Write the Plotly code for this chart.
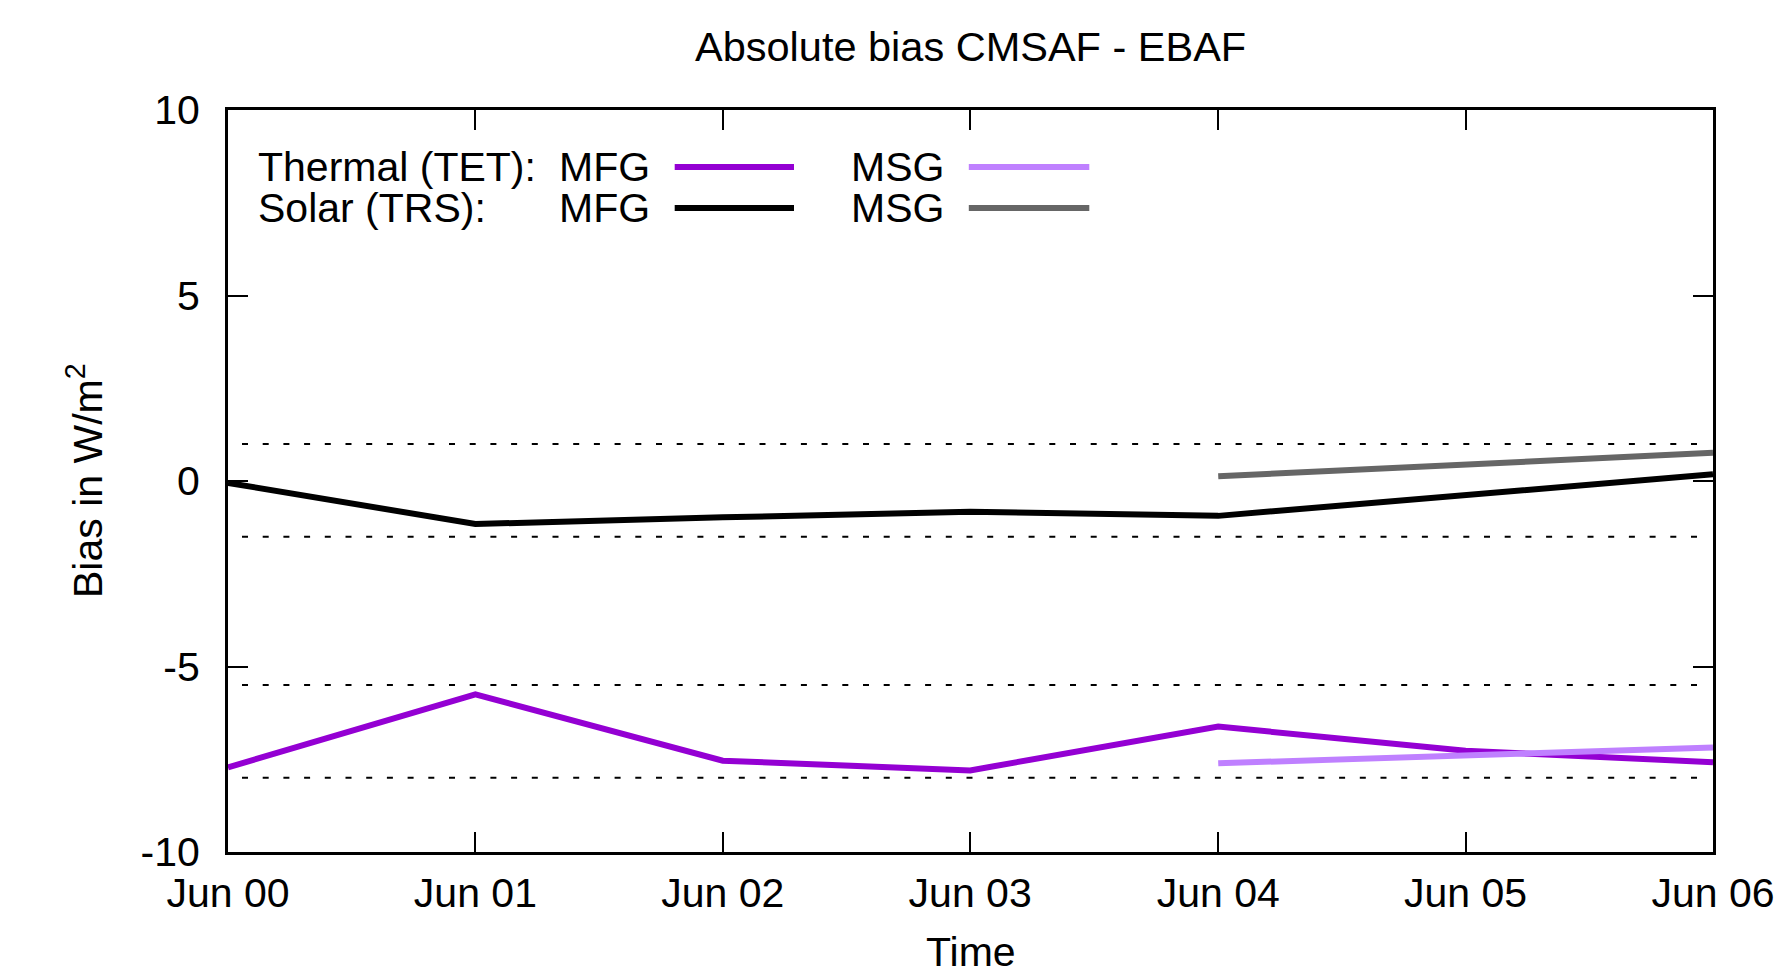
import plotly.graph_objects as go

# ---- data ----
dates_mfg = ["2000-06-01", "2001-06-01", "2002-06-01", "2003-06-01",
             "2004-06-01", "2005-06-01", "2006-06-01"]
dates_msg = ["2004-06-01", "2005-06-01", "2006-06-01"]
tet_mfg = [-7.72, -5.75, -7.54, -7.80, -6.62, -7.27, -7.58]
tet_msg = [-7.61, -7.40, -7.18]
trs_mfg = [-0.05, -1.16, -0.98, -0.83, -0.94, -0.39, 0.18]
trs_msg = [0.13, 0.45, 0.76]
ref_levels = [1.0, -1.5, -5.5, -8.0]
y_ticks = [-10, -5, 0, 5, 10]
y_ticktext = ["-10", "-5", "0", "5", "10"]
x_ticks = dates_mfg

FONT = "Liberation Sans, Arial, sans-serif"
FS = 41
C_TET_MFG = "#9400D3"
C_TET_MSG = "#BF80FF"
C_TRS_MFG = "#000000"
C_TRS_MSG = "#666666"
LW = 6

W, H = 1781, 970
L, R, T, B = 228, 1713, 110, 852


def px(x):
    return (x - L) / (R - L)


def py(y):
    return (B - y) / (B - T)


fig = go.Figure()
for xs, ys, c in [(dates_mfg, tet_mfg, C_TET_MFG), (dates_msg, tet_msg, C_TET_MSG),
                  (dates_mfg, trs_mfg, C_TRS_MFG), (dates_msg, trs_msg, C_TRS_MSG)]:
    fig.add_trace(go.Scatter(x=xs, y=ys, mode="lines",
                             line=dict(color=c, width=LW), showlegend=False))

shapes = []
for lv in ref_levels:
    shapes.append(dict(type="line", xref="paper", yref="y", x0=px(L + 14), x1=px(R - 10),
                       y0=lv, y1=lv,
                       line=dict(color="black", width=2, dash="6px,14.7px"), layer="below"))

# legend sample lines
for (x0, x1, y, c) in [(674.7, 794, 167, C_TET_MFG), (968.8, 1089.3, 167, C_TET_MSG),
                       (674.7, 794, 208, C_TRS_MFG), (968.8, 1089.3, 208, C_TRS_MSG)]:
    shapes.append(dict(type="line", xref="paper", yref="paper", x0=px(x0), x1=px(x1),
                       y0=py(y), y1=py(y), line=dict(color=c, width=LW)))

annotations = []
for (x, y, t) in [(256, 167, "Thermal (TET):"), (557, 167, "MFG"), (849, 167, "MSG"),
                  (256, 208, "Solar (TRS):"), (557, 208, "MFG"), (849, 208, "MSG")]:
    annotations.append(dict(xref="paper", yref="paper", x=px(x), y=py(y), text=t,
                            showarrow=False, xanchor="left", yanchor="middle",
                            font=dict(family=FONT, size=FS, color="black")))

annotations.append(dict(xref="paper", yref="paper", x=0.5, y=py(46),
                        text="Absolute bias CMSAF - EBAF", showarrow=False,
                        xanchor="center", yanchor="middle",
                        font=dict(family=FONT, size=41.5, color="black")))
annotations.append(dict(xref="paper", yref="paper", x=0.5, y=py(952), text="Time",
                        showarrow=False, xanchor="center", yanchor="middle",
                        font=dict(family=FONT, size=FS, color="black")))
annotations.append(dict(xref="paper", yref="paper", x=px(85), y=0.5,
                        text="Bias in W/m<sup>2</sup>", showarrow=False, textangle=-90,
                        xanchor="center", yanchor="middle",
                        font=dict(family=FONT, size=FS, color="black")))

fig.update_layout(
    width=W, height=H,
    margin=dict(l=L, r=W - R, t=T, b=H - B, pad=0, autoexpand=False),
    paper_bgcolor="white", plot_bgcolor="white",
    font=dict(family=FONT, size=FS, color="black"),
    shapes=shapes, annotations=annotations, showlegend=False,
    xaxis=dict(type="date", range=[dates_mfg[0], dates_mfg[-1]], tickvals=x_ticks,
               tickformat="%b %y", ticks="inside", ticklen=20, tickwidth=2,
               tickcolor="black", showline=True, linecolor="black", linewidth=3,
               mirror="ticks", showgrid=False, zeroline=False, automargin=False,
               ticklabelstandoff=3, tickfont=dict(family=FONT, size=FS)),
    yaxis=dict(range=[-10, 10], tickvals=y_ticks, ticktext=y_ticktext, ticks="inside",
               ticklen=20, tickwidth=2, tickcolor="black", showline=True,
               linecolor="black", linewidth=3, mirror="ticks", showgrid=False,
               zeroline=False, automargin=False,
               ticklabelstandoff=17, tickfont=dict(family=FONT, size=FS)),
)

fig.write_html("out.html")
